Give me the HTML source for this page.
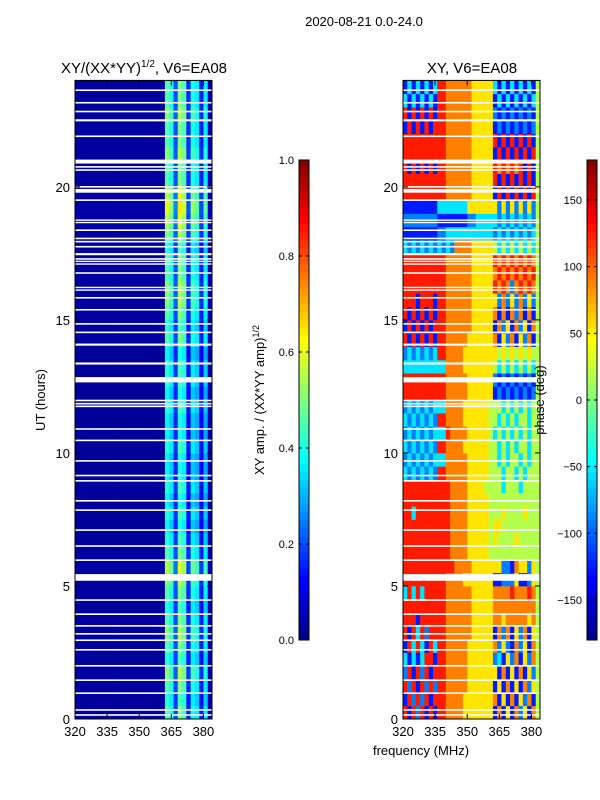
<!DOCTYPE html>
<html><head><meta charset="utf-8"><style>
body{margin:0;background:#fff;}
svg{display:block;font-family:"Liberation Sans",sans-serif;}
</style></head><body>
<svg id="fig" width="600" height="800" viewBox="0 0 600 800" xmlns="http://www.w3.org/2000/svg">
<rect width="600" height="800" fill="#fff"/>
<text x="364" y="26" font-size="13" text-anchor="middle">2020-08-21 0.0-24.0</text>
<g id="left"></g>
<g id="right"></g>
<g id="cb1"></g>
<g id="cb2"></g>
<text x="144" y="73" font-size="15" text-anchor="middle">XY/(XX*YY)<tspan font-size="10" dy="-6">1/2</tspan><tspan dy="6">, V6=EA08</tspan></text>
<text x="472" y="73" font-size="15" text-anchor="middle">XY, V6=EA08</text>
<text transform="translate(45,400) rotate(-90)" font-size="13" text-anchor="middle">UT (hours)</text>
<text x="421" y="755" font-size="13" text-anchor="middle">frequency (MHz)</text>
<text transform="translate(264,400) rotate(-90)" font-size="13" text-anchor="middle">XY amp. / (XX*YY amp)<tspan font-size="9" dy="-5">1/2</tspan></text>
<text transform="translate(544,400) rotate(-90)" font-size="13" text-anchor="middle">phase (deg)</text>
</svg>
<script>
const freqMin = 320, freqMax = 384, freqStep = 2;
const hourMin = 0, hourMax = 24, hourStep = 0.5;
const xTicks = [320, 335, 350, 365, 380];
const yTicks = [0, 5, 10, 15, 20];
const ampTicks = [0.0, 0.2, 0.4, 0.6, 0.8, 1.0];
const phaseTicks = [-150, -100, -50, 0, 50, 100, 150];
const ampProfile = [0.03,0.03,0.03,0.03,0.03,0.03,0.03,0.03,0.03,0.03,0.03,0.03,0.03,0.03,0.03,0.03,0.03,0.03,0.03,0.03,0.03,
  0.46,0.40,0.20,0.50,0.45,0.16,0.40,0.36,0.15,0.36,0.05];
const ampGain = [1.0,0.9,1.0,1.1,0.9,1.0,1.1,1.0,0.9,1.0,1.1,1.2,1.0,0.9,0.8,0.9,0.8,0.9,0.8,0.8,0.9,0.8,0.8,0.9,
  0.8,0.9,0.9,0.8,1.0,0.9,1.0,1.1,1.1,1.0,1.0,0.9,1.1,1.2,1.3,1.2,1.0,1.0,1.1,1.0,1.0,1.1,1.0,1.0];
const phaseRows = [
"81828181"+"8877776666666"+"1716172617"+"5",
"18282818"+"8877776666666"+"7161716271"+"5",
"82818282"+"8877777666666"+"1617161726"+"5",
"28182818"+"8877777666666"+"6171617162"+"5",
"31313881"+"8877777666666"+"2316271627"+"5",
"18383183"+"8877777666666"+"7262172617"+"5",
"81838288"+"8877777766666"+"1727162716"+"5",
"88818888"+"8877777766666"+"7767777767"+"5",
"88888888"+"8877777766666"+"7777777777"+"5",
"38383888"+"8877777766666"+"7777877787"+"5",
"88888888"+"8877776666666"+"1122261126"+"5",
"88888888"+"8888777766666"+"6622176626"+"5",
"88888888"+"8887777666665"+"5555555555"+"5",
"88888888"+"8887777666665"+"6555565555"+"5",
"88888888"+"8887777666665"+"6655555555"+"5",
"88388888"+"8887777666665"+"5565555655"+"5",
"88888888"+"8887777666665"+"5555555555"+"5",
"88888888"+"8887777666655"+"5535553555"+"5",
"32323232"+"8877777666665"+"5535535355"+"5",
"23232323"+"3377777666665"+"5353553535"+"5",
"32323232"+"8877776666665"+"5353535535"+"5",
"23232323"+"3387777666665"+"3535353535"+"5",
"32323232"+"8877776666665"+"5353535535"+"5",
"23232323"+"3377776666665"+"5535353535"+"5",
"88888888"+"8877777666666"+"1212121212"+"5",
"88888888"+"8877777666666"+"2121212121"+"5",
"33333333"+"3377776666666"+"5353535353"+"5",
"23232323"+"8877776666666"+"6565656565"+"5",
"81818181"+"8877777666666"+"7162716271"+"5",
"18181818"+"8877777766666"+"1726172617"+"5",
"81818181"+"8877777766666"+"7171727171"+"5",
"88818881"+"8877777766666"+"6272627262"+"5",
"88888888"+"8877777766666"+"8787278787"+"5",
"88888888"+"8877777766666"+"7878787878"+"5",
"88888888"+"8877777766666"+"8787878787"+"5",
"32323232"+"3232777766666"+"5353535353"+"5",
"11111111"+"2233333333333"+"2323232323"+"5",
"22222222"+"1111111223333"+"3232323232"+"5",
"11111111"+"3333333666666"+"6262626262"+"5",
"88888888"+"8877777766666"+"1818181818"+"5",
"88888888"+"8877777766666"+"8181818181"+"5",
"81818181"+"8877777766666"+"8787878181"+"5",
"88888888"+"8877777766666"+"1818181818"+"5",
"88888888"+"8877777766666"+"8181818181"+"5",
"18181818"+"8877777766666"+"1212121212"+"5",
"81818181"+"8877777766666"+"2121212121"+"5",
"31313131"+"8877777766666"+"1313131313"+"5",
"13131313"+"8877777766666"+"3131313131"+"5"];
const gapHours = [23.63,23.16,22.83,22.5,21.9,20.95,20.75,20.63,20.0,19.85,19.5,18.75,18.66,18.37,18.06,17.94,17.75,17.47,17.29,17.2,17.1,16.76,16.22,16.12,15.83,15.38,14.85,14.53,14.07,13.36,12.75,11.97,11.85,11.75,10.9,10.47,9.7,9.15,8.95,8.2,7.85,7.1,6.5,5.97,5.32,4.47,3.94,3.5,3.2,2.96,2.6,2.0,1.46,0.97,0.34,0.15];
const gapWidths = [0.06,0.06,0.06,0.08,0.06,0.15,0.06,0.06,0.06,0.14,0.06,0.05,0.05,0.06,0.06,0.06,0.06,0.08,0.06,0.05,0.05,0.06,0.05,0.05,0.06,0.06,0.06,0.06,0.08,0.08,0.2,0.06,0.06,0.06,0.06,0.06,0.06,0.06,0.06,0.06,0.06,0.06,0.06,0.06,0.25,0.06,0.06,0.06,0.06,0.06,0.06,0.06,0.06,0.06,0.06,0.06];

const NS = "http://www.w3.org/2000/svg";
function jet(v){v=Math.max(0,Math.min(1,v));const c=t=>Math.round(255*Math.max(0,Math.min(1,1.5-Math.abs(4*v-t))));return `rgb(${c(3)},${c(2)},${c(1)})`;}
function mk(parent,tag,attrs){const e=document.createElementNS(NS,tag);for(const k in attrs)e.setAttribute(k,attrs[k]);parent.appendChild(e);return e;}
const axTop=80.4, axBot=719;
function yScale(h){return axBot-(h-hourMin)/(hourMax-hourMin)*(axBot-axTop);}
function makeX(x0){return f=>x0+(f-freqMin)/(freqMax-freqMin)*137;}

function drawPanel(g,x0,valueFn,label){
  const xs=makeX(x0);
  const nF=(freqMax-freqMin)/freqStep, nH=(hourMax-hourMin)/hourStep;
  for(let i=0;i<nH;i++){
    for(let j=0;j<nF;j++){
      const f=freqMin+j*freqStep, h=hourMin+i*hourStep;
      const r=mk(g,'rect',{x:xs(f),y:yScale(h+hourStep),width:xs(f+freqStep)-xs(f)+0.4,height:yScale(h)-yScale(h+hourStep)+0.4,fill:jet(valueFn(i,j))});
      
      
    }
  }
  for(let k=0;k<gapHours.length;k++){
    const ya=yScale(gapHours[k]+gapWidths[k]/2), yb=yScale(gapHours[k]-gapWidths[k]/2);
    const r=mk(g,'rect',{x:x0,y:ya,width:137,height:Math.max(1.4,yb-ya),fill:'#fff'});
    
    
  }
  mk(g,'rect',{x:x0,y:axTop,width:137,height:axBot-axTop,fill:'none',stroke:'#000','stroke-width':1});
  for(const t of xTicks){
    const x=xs(t);
    mk(g,'line',{x1:x,x2:x,y1:axBot,y2:axBot-5,stroke:'#000'});
    mk(g,'line',{x1:x,x2:x,y1:axTop,y2:axTop+5,stroke:'#000'});
    const tx=mk(g,'text',{x:x,y:axBot+17,'font-size':13,'text-anchor':'middle'});tx.textContent=t;
    
    
  }
  for(const t of yTicks){
    const y=yScale(t);
    mk(g,'line',{x1:x0,x2:x0+5,y1:y,y2:y,stroke:'#000'});
    mk(g,'line',{x1:x0+137,x2:x0+132,y1:y,y2:y,stroke:'#000'});
    const tx=mk(g,'text',{x:x0-5,y:y+5,'font-size':13,'text-anchor':'end'});tx.textContent=t;
    
    
  }
}
drawPanel(document.getElementById('left'),75,(i,j)=>ampProfile[j]*ampGain[i],'amplitude');
drawPanel(document.getElementById('right'),403,(i,j)=>(parseInt(phaseRows[i][j])+0.5)/10,'phase');

function drawBar(g,x0,ticks,vmin,vmax,fmt){
  const y0=160,y1=640,n=60;
  for(let k=0;k<n;k++){
    mk(g,'rect',{x:x0,y:y1-(k+1)*(y1-y0)/n,width:10,height:(y1-y0)/n+0.5,fill:jet((k+0.5)/n)});
  }
  mk(g,'rect',{x:x0,y:y0,width:10,height:y1-y0,fill:'none',stroke:'#000'});
  for(const t of ticks){
    const y=y1-(t-vmin)/(vmax-vmin)*(y1-y0);
    mk(g,'line',{x1:x0,x2:x0+3,y1:y,y2:y,stroke:'#000'});
    mk(g,'line',{x1:x0+10,x2:x0+7,y1:y,y2:y,stroke:'#000'});
    const tx=mk(g,'text',{x:x0-5,y:y+4,'font-size':11,'text-anchor':'end'});tx.textContent=fmt(t);
    
    
  }
}
drawBar(document.getElementById('cb1'),299,ampTicks,0,1,t=>t.toFixed(1));
drawBar(document.getElementById('cb2'),587,phaseTicks,-180,180,t=>t<0?'\u2212'+(-t):String(t));
</script>
</body></html>
